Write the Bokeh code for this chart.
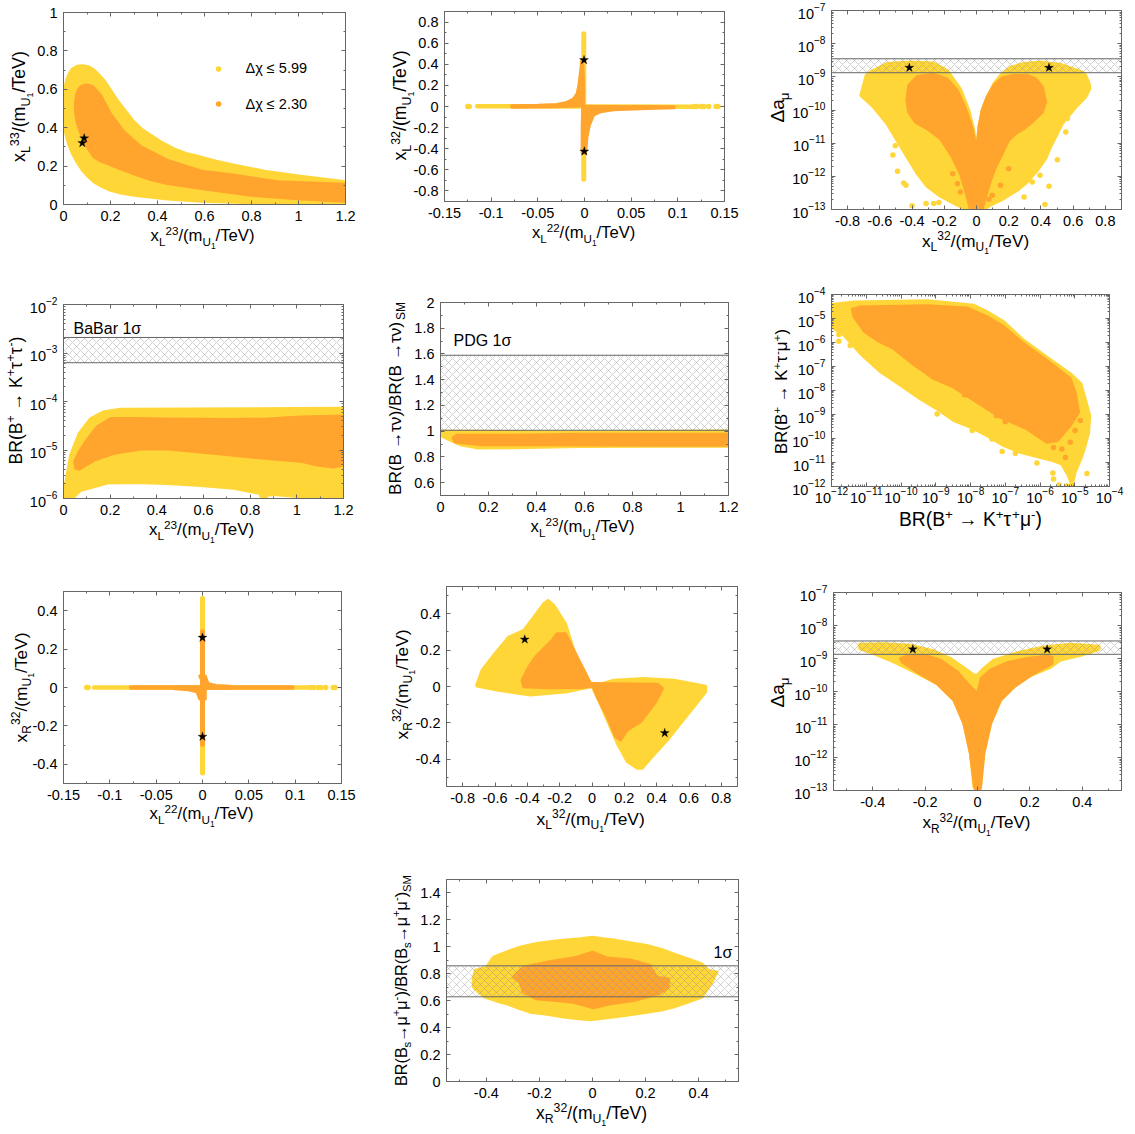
import math
from bokeh.embed import file_html
from bokeh.resources import INLINE
from bokeh.plotting import figure
from bokeh.layouts import column, row
from bokeh.models import (Range1d, Label, FixedTicker, LinearAxis, LogAxis, Spacer,
                          NumeralTickFormatter, CustomJSTickFormatter)

YEL = "#FFD637"
ORG = "#FFA52E"
GRID = "#666666"
FONT = "Liberation Sans"

# ---------- values ----------
# P1  x_L^33 vs x_L^23
p1_yx = [1.2,1.01,.87,.727,.65,.585,.525,.47,.42,.372,.33,.30,.23,.173,.15,.13,.105,.081,.058,.038,.024,.013,.005,0,0,.002,.01,.022,.038,.058,.081,.105,.13,.165,.2,.25,.30,.443,.585,.8,1.01,1.2]
p1_yy = [.118,.147,.17,.204,.225,.247,.265,.29,.322,.36,.395,.43,.54,.645,.675,.70,.718,.723,.72,.706,.68,.645,.6,.54,.455,.41,.368,.315,.265,.22,.178,.145,.118,.093,.074,.059,.048,.028,.017,.009,.003,.002]
p1_ox = [.124,.11,.095,.074,.063,.057,.052,.05,.053,.06,.072,.088,.107,.13,.155,.188,.24,.30,.37,.443,.585,.8,1.01,1.2,1.2,.912,.727,.585,.443,.33,.258,.2,.159]
p1_oy = [.614,.62,.623,.614,.597,.576,.54,.507,.46,.42,.375,.334,.29,.247,.228,.213,.187,.16,.13,.109,.083,.048,.028,.017,.105,.118,.152,.175,.23,.3,.377,.472,.567]
p1_star_x = [.08,.088]
p1_star_y = [.32,.345]
legend_x = [.66]
legend_y = [.706, .524]

# P2  x_L^32 vs x_L^22
p2_yh_x = [-.115,0,.118]
p2_yh_y = [.003,0,-.003]
p2_yv_x = [-.0008,-.0008]
p2_yv_y = [.69,-.69]
p2_dots_x = [-.125,-.1235,.1175,.12,.125,.128,.133,.141,.143]
p2_dots_y = [0,0,0,0,0,0,0,0,0]
p2_o1x = [-.078,-.05,-.03,-.02,-.012,-.008,-.006,-.004,-.003,-.002,-.001,-.001,-.005,-.03,-.078]
p2_o1y = [.008,.012,.02,.035,.07,.12,.2,.35,.44,.44,.2,.01,.004,-.002,-.006]
p2_o2x = [-.0025,.0012,.0025,.0052,.0098,.017,.031,.067,.096,.096,.05,.01,.002,-.002,-.0025]
p2_o2y = [-.44,-.44,-.3,-.176,-.08,-.05,-.03,-.018,-.012,-.002,-.001,-.001,.003,-.02,-.2]
p2_star_x = [-.0005,-.0002]
p2_star_y = [.44,-.425]

# P3  Delta a_mu vs x_L^32 (y as log10)
p3_yx = [.004,.015,.035,.066,.108,.149,.212,.295,.398,.523,.658,.678,.70,.703,.678,.627,.575,.533,.492,.46,.43,.378,.315,.253,.17,.087,.046,-.058,-.12,-.224,-.307,-.37,-.432,-.494,-.556,-.64,-.718,-.685,-.66,-.556,-.41,-.266,-.183,-.1,-.048,-.017,-.004]
p3_ye = [-11.11,-10.51,-10.01,-9.61,-9.21,-8.96,-8.71,-8.6,-8.555,-8.625,-8.856,-8.956,-9.21,-9.36,-9.61,-9.86,-10.16,-10.41,-10.81,-11.11,-11.46,-11.82,-12.17,-12.42,-12.67,-12.87,-13,-13,-12.87,-12.6,-12.3,-11.9,-11.41,-10.91,-10.41,-9.91,-9.56,-8.96,-8.856,-8.6,-8.555,-8.585,-8.8,-9.36,-10,-10.6,-11.11]
p3_ydx = [-.519,-.504,-.49,-.452,-.438,-.4,-.313,-.266,-.234,-.328,.554,.564,.502,.425,.45,.394,.346,.295]
p3_yde = [-11.36,-11.08,-11.85,-12.2,-12.27,-12.89,-12.82,-12.82,-12.79,-12.02,-10.66,-10.26,-11.5,-12.85,-12.3,-11.97,-12.17,-12.62]
p3_ox = [.004,.015,.035,.066,.108,.16,.232,.315,.367,.409,.429,.409,.357,.295,.243,.2,.149,.118,.087,.056,.035,-.037,-.068,-.1,-.151,-.224,-.307,-.38,-.421,-.432,-.421,-.369,-.266,-.183,-.12,-.068,-.027,-.004]
p3_oe = [-11.11,-10.51,-10.01,-9.61,-9.26,-9.03,-8.96,-8.96,-9.06,-9.31,-9.76,-10.06,-10.31,-10.56,-10.71,-10.91,-11.41,-11.72,-12.12,-12.62,-13,-13,-12.42,-11.92,-11.41,-10.86,-10.56,-10.36,-10.06,-9.71,-9.26,-8.99,-8.93,-9.06,-9.41,-9.96,-10.56,-11.11]
p3_odx = [.2,.149,.098,.077,-.148,-.118,-.1]
p3_ode = [-11.77,-12.27,-12.57,-12.69,-11.92,-12.22,-12.47]
amu_band = [1.33e-9, 3.5e-9]
p3_star_x = [-.417,.45]
p3_star_y = [1.88e-9,1.88e-9]

# P4  BR(B+ -> K+ tau tau) vs x_L^23
p4_yx = [0,.01,.031,.067,.117,.174,.245,1.2,1.2,1.0,.9,.844,.872,.844,.73,.587,.445,.302,.188,.131,.074,.038]
p4_ye = [-6,-5.66,-5.1,-4.66,-4.35,-4.21,-4.16,-4.14,-6,-5.96,-5.92,-5.95,-6,-5.9,-5.79,-5.73,-5.69,-5.67,-5.68,-5.76,-5.83,-6]
p4_ox = [.048,.053,.067,.131,.217,.33,.445,.587,.73,.872,1.015,1.086,1.157,1.2,1.2,1.015,.872,.73,.445,.302,.202,.145,.095,.067]
p4_oe = [-5.24,-5.38,-5.395,-5.21,-5.07,-4.98,-4.98,-5.04,-5.11,-5.175,-5.23,-5.31,-5.35,-5.31,-4.3,-4.32,-4.36,-4.37,-4.36,-4.35,-4.35,-4.52,-4.83,-5.04]
p4_band = [6.3e-4, 2.09e-3]

# P5  BR(B->tau nu)/SM vs x_L^23
p5_yx = [0,.04,.082,.152,.305,.583,.862,1.2,1.2,.583,0]
p5_yy = [.968,.93,.895,.87,.872,.88,.883,.883,1.002,.994,1.0]
p5_ox = [1.2,.862,.583,.305,.068,.052,.061,.166,.444,.862,1.2]
p5_oy = [.976,.976,.976,.968,.968,.947,.916,.895,.895,.89,.89]
p5_band = [1.007, 1.59]

# P6  BR(K tau- mu+) vs BR(K tau+ mu-) (both log10)
p6_yx = [-12,-11.35,-9.24,-7.9,-7.52,-7.04,-6.47,-5.8,-5.13,-4.82,-4.7,-4.57,-4.6,-4.7,-4.79,-4.99,-5.08,-5.18,-5.37,-5.61,-6.18,-6.56,-7.04,-7.52,-8,-8.48,-8.96,-9.44,-10,-10.58,-11.16,-11.64,-12]
p6_yy = [-4.42,-4.31,-4.26,-4.45,-4.72,-5.14,-5.91,-6.61,-7.3,-7.72,-8.35,-9.05,-9.74,-10.3,-10.72,-11.41,-11.97,-11.55,-11.07,-10.93,-10.72,-10.58,-10.3,-9.88,-9.53,-9.25,-8.77,-8.35,-7.79,-7.23,-6.47,-5.7,-5.35]
p6_ydx = [-11.79,-11.79,-11.46,-8.96,-8.72,-7.95,-7.38,-7.09,-6.71,-6.09,-5.63,-5.61,-5.45,-5.24,-4.65]
p6_ydy = [-5.95,-5.67,-6.12,-8.98,-8.9,-9.67,-10.02,-10.54,-10.62,-11.02,-11.44,-11.69,-11.94,-11.97,-11.46]
p6_ox = [-11.4,-11.35,-11.06,-10.68,-10.2,-9.72,-9.05,-8.48,-7.81,-7.14,-6.37,-5.8,-5.51,-5.13,-4.89,-4.99,-5.13,-5.8,-6.47,-7.04,-7.52,-8.1,-9.24,-11.16]
p6_oy = [-4.61,-4.93,-5.53,-5.91,-6.26,-6.82,-7.51,-7.86,-8.49,-9.11,-9.6,-10.16,-10.09,-9.46,-8.9,-8.07,-7.51,-6.75,-6.05,-5.35,-4.93,-4.56,-4.47,-4.52]
p6_odx = [-5.27,-5.61,-5.37,-4.99,-4.84,-5.13,-8.17,-7.25,-7.0]
p6_ody = [-10.79,-10.37,-10.44,-9.67,-9.25,-10.16,-8.18,-9.05,-9.3]

# P7  x_R^32 vs x_L^22
p7_yh_x = [-.117,.12]
p7_yh_y = [0,0]
p7_yv_x = [0,0]
p7_yv_y = [.465,-.445]
p7_dots_x = [-.125,-.1235,.1175,.12,.125,.128,.133,.141,.143]
p7_dots_y = [0,0,0,0,0,0,0,0,0]
p7_oh_x = [-.077,.097]
p7_oh_y = [0,0]
p7_ov_x = [0,0]
p7_ov_y = [.29,-.295]
p7_o1x = [-.003,.003,.006,.015,.03,.03,.003]
p7_o1y = [.06,.06,.02,.011,.006,-.004,-.004]
p7_o2x = [-.03,-.015,-.006,-.003,.003,.003,-.03]
p7_o2y = [-.006,-.012,-.022,-.06,-.06,.004,.004]
p7_star_x = [0,0]
p7_star_y = [.26,-.256]

# P8  x_R^32 vs x_L^32
p8_yx = [-.712,-.68,-.608,-.515,-.422,-.36,-.298,-.272,-.236,-.164,-.113,-.05,0,.135,.32,.507,.703,.703,.631,.548,.466,.383,.31,.28,.218,.156,.094,.032,0,-.154,-.381,-.588,-.712]
p8_yy = [.011,.09,.172,.272,.309,.382,.455,.473,.446,.345,.2,.07,0,.035,.044,.035,.002,-.029,-.111,-.203,-.294,-.376,-.449,-.449,-.413,-.312,-.184,-.057,0,-.029,-.047,-.02,.002]
p8_o1x = [0,-.071,-.278,-.422,-.433,-.391,-.34,-.247,-.216,-.164,-.102,-.05]
p8_o1y = [0,-.005,-.007,-.002,.035,.108,.172,.254,.29,.29,.18,.09]
p8_o2x = [0,.404,.435,.394,.3,.218,.177,.146,.094,.032]
p8_o2y = [.016,.013,-.011,-.084,-.194,-.239,-.294,-.276,-.166,-.057]
p8_star_x = [-.416,.45]
p8_star_y = [.259,-.256]

# P9  Delta a_mu vs x_R^32 (y as log10)
p9_yx = [0,.018,.062,.164,.254,.355,.464,.464,.394,.317,.279,.19,.139,.088,.05,.024,.011,-.014,-.027,-.052,-.09,-.154,-.23,-.32,-.396,-.45,-.45,-.358,-.256,-.167,-.103,-.04,-.014]
p9_ye = [-9.5,-9.34,-9.05,-8.8,-8.65,-8.57,-8.63,-8.73,-8.9,-9.05,-9.27,-9.56,-9.86,-10.26,-10.97,-11.88,-12.89,-12.89,-11.88,-10.97,-10.26,-9.76,-9.45,-9.1,-8.85,-8.7,-8.57,-8.55,-8.6,-8.77,-9,-9.35,-9.5]
p9_ox = [.0,.014,.05,.113,.19,.266,.285,.285,.215,.139,.088,.05,.024,.011,-.01,-.027,-.052,-.09,-.154,-.23,-.288,-.294,-.269,-.192,-.141,-.078,-.027]
p9_oe = [-10.06,-9.6,-9.35,-9.13,-9,-8.93,-8.97,-9.15,-9.45,-9.86,-10.26,-10.97,-11.88,-12.94,-12.94,-11.88,-10.97,-10.26,-9.76,-9.41,-9.1,-9,-8.93,-8.93,-9.05,-9.4,-9.86]
p9_band = [1.34e-9, 3.4e-9]
p9_star_x = [-.247,.266]
p9_star_y = [1.9e-9,1.9e-9]

# P10 BR(Bs->mu mu)/SM vs x_R^32
p10_yx = [0,.04,.08,.14,.205,.26,.305,.36,.412,.437,.469,.45,.425,.412,.36,.305,.26,.205,.14,.08,-.009,-.06,-.109,-.17,-.235,-.28,-.323,-.365,-.405,-.43,-.448,-.45,-.442,-.398,-.385,-.373,-.32,-.273,-.21,-.147,-.09,-.046]
p10_yy = [1.072,1.06,1.05,1.03,1.01,.98,.948,.91,.874,.824,.812,.738,.663,.626,.59,.552,.53,.515,.495,.478,.458,.468,.478,.5,.515,.545,.577,.6,.626,.665,.7,.76,.824,.849,.89,.923,.965,.998,1.025,1.042,1.052,1.06]
p10_ox = [0,.054,.142,.217,.242,.286,.286,.249,.155,.067,.004,-.072,-.21,-.26,-.273,-.298,-.26,-.172,-.059]
p10_oy = [.96,.918,.903,.861,.775,.762,.7,.651,.601,.577,.547,.589,.614,.663,.738,.775,.849,.886,.923]
p10_band = [.629, .859]

# tick values
t_01 = [0,.2,.4,.6,.8,1.0,1.2]
m_01 = [.1,.3,.5,.7,.9,1.1]
t_08 = [-.8,-.6,-.4,-.2,0,.2,.4,.6,.8]
m_08 = [-.9,-.7,-.5,-.3,-.1,.1,.3,.5,.7,.9]
t_015 = [-.15,-.1,-.05,0,.05,.1,.15]
m_015 = [-.125,-.075,-.025,.025,.075,.125]
t_04 = [-.4,-.2,0,.2,.4]
m_04 = [-.5,-.3,-.1,.1,.3,.5]
t_y1 = [0,.2,.4,.6,.8,1.0]
m_y1 = [.1,.3,.5,.7,.9]
t_y5 = [.6,.8,1.0,1.2,1.4,1.6,1.8,2.0]
m_y5 = [.5,.7,.9,1.1,1.3,1.5,1.7,1.9]
t_y10 = [0,.2,.4,.6,.8,1.0,1.2,1.4]
m_y10 = [.1,.3,.5,.7,.9,1.1,1.3,1.5]

def decades(a, b):
    return [10.0**e for e in range(a, b+1)]

def log_minor(a, b):
    return [k*10.0**e for e in range(a, b) for k in range(2, 10)]

# ---------- text layer: one transparent figure over the whole page ----------
PW, PH = 1135, 1134
tl = figure(width=PW, height=PH, output_backend="svg", toolbar_location=None,
            x_range=Range1d(0,PW), y_range=Range1d(0,PH), x_axis_type=None, y_axis_type=None,
            min_border=0, background_fill_color=None, border_fill_color=None, outline_line_color=None,
            margin=(-PH,0,0,0))
tl.grid.visible = False

NB = "\u00a0"
EM = {' ':.278,NB:.278,'/':.278,'(':.333,')':.333,'+':.584,'-':.333,'.':.278,'→':1.0,'τ':.439,'ν':.521,'μ':.576,
      'Δ':.612,'χ':.549,'σ':.603,'≤':.549,'x':.5,'L':.556,'R':.722,'m':.833,'U':.722,'T':.611,'e':.556,'V':.667,
      'B':.667,'K':.667,'a':.556,'s':.5,'S':.667,'M':.833,'P':.667,'D':.722,'G':.778,'r':.333}
SC = {0:1.0, 1:.7, -1:.7, -2:.5}
SH = {0:0.0, 1:.42, -1:-.24, -2:-.42}
BASE_FIX = .4

def em_width(parts):
    return sum(sum(EM.get(c,.556) for c in t)*SC[l] for t,l in parts)

def label(parts, cx, cy, length=None, size=None, vertical=False, anchor="center"):
    em = em_width(parts)
    if size is None:
        size = length/em
    pos = -em*size/2 if anchor == "center" else 0.0
    for t, l in parts:
        s = size*SC[l]
        shift = SH[l]*size + BASE_FIX*s
        if vertical:
            px, py, ang = cx - shift, cy - pos, math.pi/2
        else:
            px, py, ang = cx + pos, cy - shift, 0
        tl.add_layout(Label(x=round(px,1), y=round(PH-py,1), x_units="screen", y_units="screen", text=t,
                            text_font=FONT, text_font_size=f"{s:.1f}px", text_color="black",
                            text_align="left", text_baseline="alphabetic", angle=ang, angle_units="rad"))
        pos += sum(EM.get(c,.556) for c in t)*s

def xl(a, b, sub="L"):
    return [("x",0),(sub,-1),(a+b,1),("/(m",0),("U",-1),("1",-2),("/TeV)",0)]

# ---------- panel helper ----------
COLS = [(0,380),(380,390),(770,365)]
ROWS = [(0,270),(270,295),(565,295),(860,274)]

def panel(col, rw, frame, xr, yr, xt, xm, yt, ym, xlog=False, ylog=False):
    cx, cw = COLS[col]
    ry, rh = ROWS[rw]
    l,t,r,b = frame
    p = figure(width=cw, height=rh, output_backend="svg", toolbar_location=None,
               x_range=Range1d(*xr), y_range=Range1d(*yr),
               x_axis_type="log" if xlog else "linear", y_axis_type="log" if ylog else "linear",
               min_border_left=l-cx, min_border_right=cx+cw-r, min_border_top=t-ry, min_border_bottom=ry+rh-b)
    p.background_fill_color = "white"
    p.border_fill_color = None
    p.grid.visible = False
    p.outline_line_color = GRID
    p.outline_line_width = 1
    Xax = LogAxis if xlog else LinearAxis
    Yax = LogAxis if ylog else LinearAxis
    p.add_layout(Xax(), "above")
    p.add_layout(Yax(), "right")
    blank = CustomJSTickFormatter(code="return ''")
    p.above[0].formatter = blank
    p.right[0].formatter = blank
    below_off = 0 if xlog else 6
    for ax, tk, mk, lab, off in [(p.below[0],xt,xm,True,below_off),(p.above[0],xt,xm,False,0),
                                 (p.left[0],yt,ym,True,6),(p.right[0],yt,ym,False,0)]:
        ax.ticker = FixedTicker(ticks=tk, minor_ticks=mk)
        ax.major_tick_in = 4
        ax.major_tick_out = 0
        ax.minor_tick_in = 2
        ax.minor_tick_out = 0
        ax.axis_line_color = GRID
        ax.major_tick_line_color = GRID
        ax.minor_tick_line_color = GRID
        ax.major_label_standoff = off
        ax.major_label_text_font = FONT
        ax.major_label_text_color = "black"
        ax.major_label_text_font_size = "14.5px" if lab else "1px"
    if not xlog:
        p.below[0].formatter = NumeralTickFormatter(format="0.[00]")
    if not ylog:
        p.left[0].formatter = NumeralTickFormatter(format="0.[00]")
    return p

def region(p, x, y, color):
    p.patch(x, y, fill_color=color, line_color=color, line_width=3, line_join="round")

def dots(p, x, y, color):
    p.scatter(x, y, size=5.5, fill_color=color, line_color=None)

def stem(p, x, y, color, w):
    p.line(x, y, line_color=color, line_width=w, line_cap="round")

def stars(p, x, y):
    p.scatter(x, y, marker="star", size=9.5, fill_color="black", line_color="black", line_width=.3)

def band(p, xr, rng):
    p.quad(left=xr[0], right=xr[1], bottom=rng[0], top=rng[1], fill_color=None,
           hatch_pattern="diagonal_cross", hatch_color="#9a9a9a", hatch_weight=.45, hatch_scale=8,
           line_color=GRID, line_width=1)

E = lambda v: [10.0**a for a in v]

# frames (left, top, right, bottom) in page pixels
F1 = (63,12,345,204);  F2 = (444,11,724,201);  F3 = (831,10,1121,209)
F4 = (63,304,343,498); F5 = (440,302,728,495); F6 = (831,294,1109,486)
F7 = (63,591,341,783); F8 = (446,586,737,786); F9 = (833,592,1121,790)
F10 = (446,879,738,1081)

# P1
p1 = panel(0,0,F1,(0,1.2),(0,1),t_01,m_01,t_y1,m_y1)
region(p1,p1_yx,p1_yy,YEL); region(p1,p1_ox,p1_oy,ORG); stars(p1,p1_star_x,p1_star_y)
dots(p1,legend_x,legend_y[:1],YEL); dots(p1,legend_x,legend_y[1:],ORG)
label([("Δχ ≤ 5.99",0)],245,73,size=14.5,anchor="left")
label([("Δχ ≤ 2.30",0)],245,109,size=14.5,anchor="left")
label(xl("2","3"),203,242,length=106)
label(xl("3","3"),26,105,length=113,vertical=True)

# P2
p2 = panel(1,0,F2,(-.15,.15),(-.9,.9),t_015,m_015,t_08,m_08)
stem(p2,p2_yh_x,p2_yh_y,YEL,4.5); stem(p2,p2_yv_x,p2_yv_y,YEL,5); dots(p2,p2_dots_x,p2_dots_y,YEL)
region(p2,p2_o1x,p2_o1y,ORG); region(p2,p2_o2x,p2_o2y,ORG); stars(p2,p2_star_x,p2_star_y)
label(xl("2","2"),584,239,length=105)
label(xl("3","2"),407,104,length=112,vertical=True)

# P3
amu_t = decades(-13,-7); amu_m = log_minor(-13,-7)
p3 = panel(2,0,F3,(-.9,.9),(1e-13,1e-7),t_08,m_08,amu_t,amu_m,ylog=True)
region(p3,p3_yx,E(p3_ye),YEL); dots(p3,p3_ydx,E(p3_yde),YEL)
region(p3,p3_ox,E(p3_oe),ORG); dots(p3,p3_odx,E(p3_ode),ORG)
band(p3,(-.9,.9),amu_band); stars(p3,p3_star_x,p3_star_y)
label(xl("3","2"),976,247,length=109)
label([("Δa",0),("μ",-1)],785,107,length=30,vertical=True)

# P4
p4 = panel(0,1,F4,(0,1.2),(1e-6,1e-2),t_01,m_01,decades(-6,-2),log_minor(-6,-2),ylog=True)
region(p4,p4_yx,E(p4_ye),YEL); region(p4,p4_ox,E(p4_oe),ORG); band(p4,(0,1.2),p4_band)
label([("BaBar 1σ",0)],73,334,size=16,anchor="left")
label(xl("2","3"),202,536,length=107)
label([("BR(B",0),("+",1),(NB+"→ K",0),("+",1),("τ",0),("+",1),("τ",0),("-",1),(")",0)],22,400,length=128,vertical=True)

# P5
p5 = panel(1,1,F5,(0,1.2),(.5,2),t_01,m_01,t_y5,m_y5)
region(p5,p5_yx,p5_yy,YEL); region(p5,p5_ox,p5_oy,ORG); band(p5,(0,1.2),p5_band)
label([("PDG 1σ",0)],453,346,size=16,anchor="left")
label(xl("2","3"),583,533,length=106)
label([("BR(B →τν)/BR(B →τν)",0),("SM",-1)],401,398,length=193,vertical=True)

# P6
p6 = panel(2,1,F6,(1e-12,1e-4),(1e-12,1e-4),decades(-12,-4),log_minor(-12,-4),decades(-12,-4),log_minor(-12,-4),xlog=True,ylog=True)
region(p6,E(p6_yx),E(p6_yy),YEL); dots(p6,E(p6_ydx),E(p6_ydy),YEL)
region(p6,E(p6_ox),E(p6_oy),ORG); dots(p6,E(p6_odx),E(p6_ody),ORG)
label([("BR(B",0),("+",1),(NB+"→ K",0),("+",1),("τ",0),("+",1),("μ",0),("-",1),(")",0)],970,527,length=143)
label([("BR(B",0),("+",1),(NB+"→ K",0),("+",1),("τ",0),("-",1),("μ",0),("+",1),(")",0)],788,391,length=125,vertical=True)

# P7
p7 = panel(0,2,F7,(-.15,.15),(-.5,.5),t_015,m_015,t_04,m_04)
stem(p7,p7_yh_x,p7_yh_y,YEL,4.5); stem(p7,p7_yv_x,p7_yv_y,YEL,5); dots(p7,p7_dots_x,p7_dots_y,YEL)
stem(p7,p7_oh_x,p7_oh_y,ORG,4.5); stem(p7,p7_ov_x,p7_ov_y,ORG,5)
region(p7,p7_o1x,p7_o1y,ORG); region(p7,p7_o2x,p7_o2y,ORG); stars(p7,p7_star_x,p7_star_y)
label(xl("2","2"),202,820,length=106)
label(xl("3","2","R"),27,686,length=112,vertical=True)

# P8
p8 = panel(1,2,F8,(-.9,.9),(-.55,.55),t_08,m_08,t_04,m_04)
region(p8,p8_yx,p8_yy,YEL); region(p8,p8_o1x,p8_o1y,ORG); region(p8,p8_o2x,p8_o2y,ORG); stars(p8,p8_star_x,p8_star_y)
label(xl("3","2"),591,825,length=110)
label(xl("3","2","R"),408,683,length=112,vertical=True)

# P9
p9 = panel(2,2,F9,(-.55,.55),(1e-13,1e-7),t_04,m_04,amu_t,amu_m,ylog=True)
region(p9,p9_yx,E(p9_ye),YEL); region(p9,p9_ox,E(p9_oe),ORG); band(p9,(-.55,.55),p9_band); stars(p9,p9_star_x,p9_star_y)
label(xl("3","2","R"),977,829,length=110)
label([("Δa",0),("μ",-1)],785,692,length=30,vertical=True)

# P10
p10 = panel(1,3,F10,(-.55,.55),(0,1.5),t_04,m_04,t_y10,m_y10)
region(p10,p10_yx,p10_yy,YEL); region(p10,p10_ox,p10_oy,ORG); band(p10,(-.55,.55),p10_band)
label([("1σ",0)],713,958,size=16,anchor="left")
label(xl("3","2","R"),592,1119,length=113)
label([("BR(B",0),("s",-1),("→μ",0),("+",1),("μ",0),("-",1),(")/BR(B",0),("s",-1),("→μ",0),("+",1),("μ",0),("-",1),(")",0),("SM",-1)],407,980,length=211,vertical=True)

# each figure sits in its own column so that a row does not line up the frames of its figures
def cell(p):
    return column(p, spacing=0)

page = column(row(cell(p1),cell(p2),cell(p3),spacing=0),
              row(cell(p4),cell(p5),cell(p6),spacing=0),
              row(cell(p7),cell(p8),cell(p9),spacing=0),
              row(Spacer(width=380,height=274),cell(p10),spacing=0),tl,spacing=0)
open("out.html","w").write(file_html(page, INLINE))
